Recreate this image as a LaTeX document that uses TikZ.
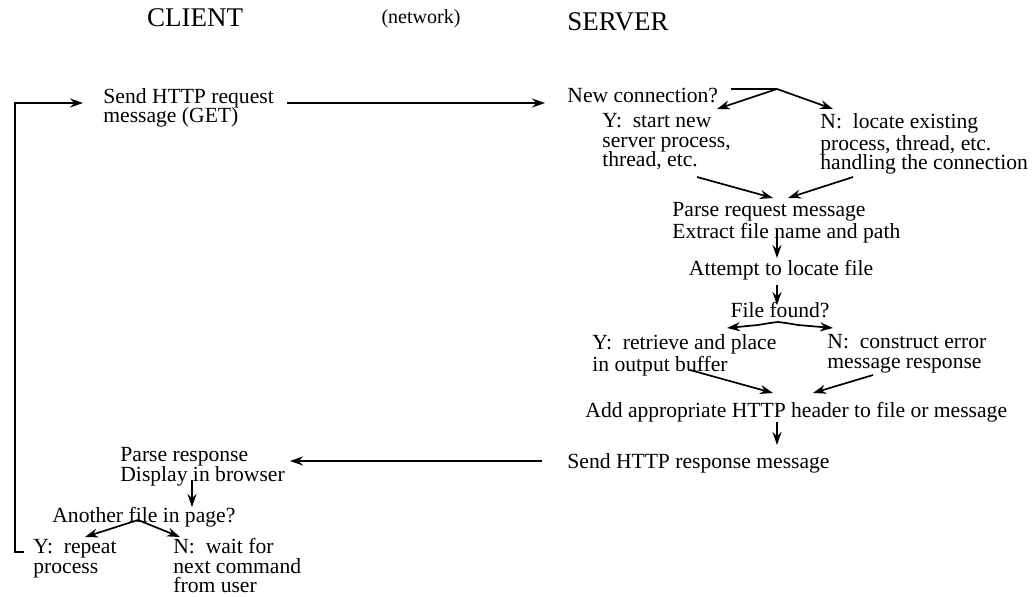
\documentclass[tikz,border=0pt]{standalone}
\usepackage{fontspec}
\setmainfont{Liberation Serif}
\usetikzlibrary{arrows.meta,calc}
\tikzset{
  txt/.style  = {anchor=north west, align=left, inner sep=0pt,
                 font=\fontsize{10.8}{9.8}\selectfont},
  head/.style = {inner sep=0pt, font=\fontsize{13.5}{15}\selectfont},
  flow/.style = {-{Stealth[length=6.5pt,width=4.5pt]}, line width=0.85pt},
  link/.style = {line width=0.85pt},
}

\begin{document}
\begin{tikzpicture}[x=0.5pt,y=-0.5pt]
  \useasboundingbox (0,0) rectangle (1033,596);
  % headings
  \node[head] (client) at (195,18) {CLIENT};
  \node[head,font=\fontsize{10}{12}\selectfont] (network) at (421,19) {(network)};
  \node[head] (server) at (618,22) {SERVER};
  % client side
  \node[txt] (send) at (103,88) {Send HTTP request\\message (GET)};
  \node[txt] (parseresp) at (120,447) {Parse response\\Display in browser};
  \node[txt] (another) at (52,507) {Another file in page?};
  \node[txt] (yrepeat) at (33,539) {Y:\ \ repeat\\process};
  \node[txt] (nwait) at (173,538) {N:\ \ wait for\\next command\\from user};
  % server side
  \node[txt] (newconn) at (567,88) {New connection?};
  \node[txt] (ystart) at (602,113) {Y:\ \ start new\\server process,\\thread, etc.};
  \node[txt] (nlocate) at (820,113) {N:\ \ locate existing\\process, thread, etc.\\handling the connection};
  \node[txt] (parse) at (672,202) {Parse request message\\Extract file name and path};
  \node[txt,anchor=north] (attempt) at (781,260) {Attempt to locate file};
  \node[txt,anchor=north] (found) at (780,302) {File found?};
  \node[txt] (yretr) at (592,334) {Y:\ \ retrieve and place\\in output buffer};
  \node[txt] (nconst) at (827,334) {N:\ \ construct error\\message response};
  \node[txt] (addhdr) at (585,402) {Add appropriate HTTP header to file or message};
  \node[txt] (sendresp) at (567,453) {Send HTTP response message};
  % request
  \draw[flow] ($(yrepeat.north west)+(-9,13)$) -- ++(-9,0)
      |- ($(send.north west)+(-20,15)$);
  \draw[flow] ($(send.north west)+(184,15)$) -- ($(newconn.north west)+(-22,15)$);
  % new connection?
  \coordinate (ncfork) at ($(newconn.north west)+(210,1)$);
  \draw[link] ($(newconn.north west)+(164,1)$) -- (ncfork);
  \draw[flow] (ncfork) -- ($(ystart.north west)+(115,-4)$);
  \draw[flow] (ncfork) -- ($(nlocate.north west)+(13,-4)$);
  \draw[flow] ($(ystart.north west)+(95,64)$) -- ($(parse.north west)+(101,-4)$);
  \draw[flow] ($(nlocate.north west)+(33,64)$) -- ($(parse.north west)+(116,-4)$);
  \draw[flow] ($(parse.north west)+(105,28)$) -- ($(attempt.north)+(-4,-2)$);
  \draw[flow] ($(attempt.north)+(-4,25)$) -- ($(found.north)+(-3,3)$);
  % file found?
  \coordinate (ffork) at ($(found.north)+(-2,20)$);
  \draw[flow] (ffork) -- ++(-8,1) -- ++(-12,2) -- ($(yretr.north west)+(135,-6)$);
  \draw[flow] (ffork) -- ++(8,1) -- ++(12,2) -- ($(nconst.north west)+(6,-6)$);
  \draw[flow] ($(yretr.north west)+(98,36)$) -- ($(addhdr.north west)+(188,-9)$);
  \draw[flow] ($(nconst.north west)+(46,41)$) -- ($(addhdr.north west)+(228,-9)$);
  \draw[flow] ($(addhdr.north west)+(192,20)$) -- ($(sendresp.north west)+(210,-8)$);
  % response
  \draw[flow] ($(sendresp.north west)+(-25,8)$) -- ($(parseresp.north west)+(170,14)$);
  \draw[flow] ($(parseresp.north west)+(72,33)$) -- ($(another.north west)+(140,0)$);
  % another file?
  \coordinate (afork) at ($(another.north west)+(86,13)$);
  \draw[flow] (afork) -- ($(yrepeat.north west)+(52,-2)$);
  \draw[flow] (afork) -- ($(nwait.north west)+(7,-1)$);
\end{tikzpicture}
\end{document}
